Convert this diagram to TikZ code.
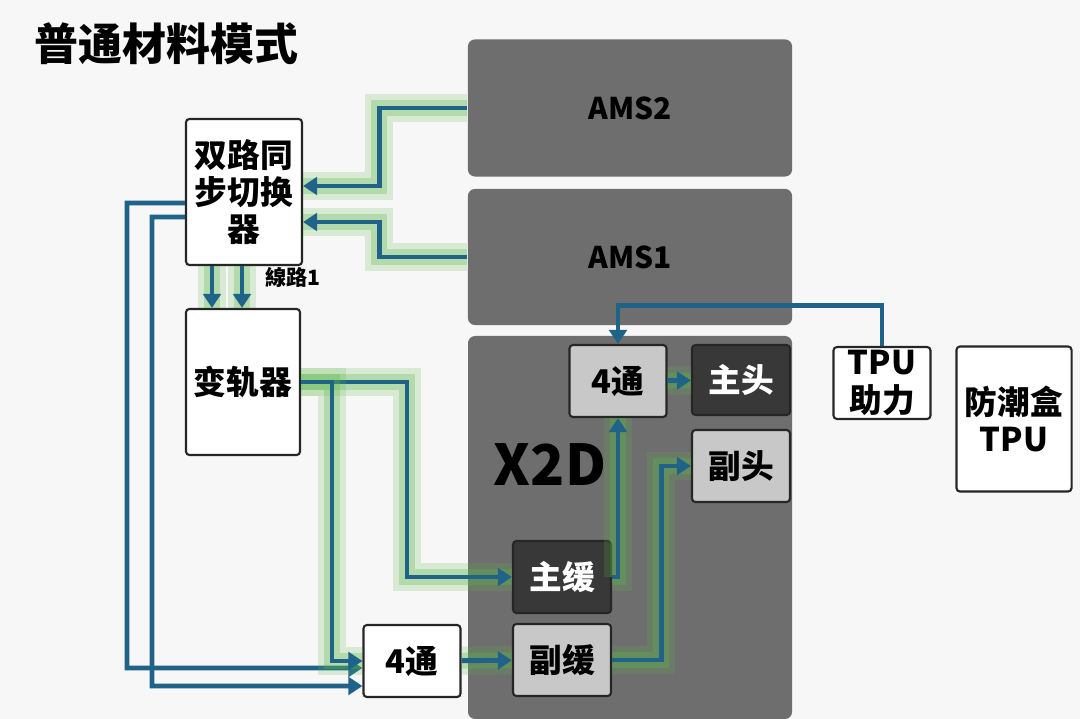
\documentclass[tikz,border=0pt]{standalone}
\usepackage{fontspec}
\setmainfont{Noto Sans CJK SC}
\usetikzlibrary{arrows.meta}
\definecolor{bg}{HTML}{F7F7F7}
\definecolor{panel}{HTML}{6E6E6E}
\definecolor{dark}{HTML}{383838}
\definecolor{light}{HTML}{C8C8C8}
\definecolor{wire}{HTML}{1F6388}
\definecolor{halo}{HTML}{5CB84A}
\tikzset{
  panel/.style={fill=panel,draw=none,rounded corners=2pt,font=\bfseries\fontsize{8.5}{10}\selectfont},
  box/.style={draw=black!85,line width=0.6pt,fill=white,rounded corners=1pt,align=center,
    font=\bfseries\fontsize{9.3}{10.6}\selectfont,inner sep=0pt},
  wire/.style={draw=wire,line width=1.4pt,-{Triangle[length=4pt,width=5pt]}},
  glow/.style={preaction={draw=halo,opacity=0.2,line width=8pt,arrows=-},
               preaction={draw=halo,opacity=0.3,line width=4.5pt,arrows=-}}
}
\begin{document}
\begin{tikzpicture}[x=0.01cm,y=-0.01cm]
  \fill[bg] (0,0) rectangle (1080,719);
  \useasboundingbox (0,0) rectangle (1080,719);
  \node[anchor=west,font=\bfseries\fontsize{12.5}{14}\selectfont] (title) at (22,44) {普通材料模式};
  % panels
  \node[panel,minimum width=3.24cm,minimum height=1.37cm] (ams2) at (630,108) {AMS2};
  \node[panel,minimum width=3.24cm,minimum height=1.36cm] (ams1) at (630,257) {AMS1};
  \fill[panel,rounded corners=2pt] (468,336) rectangle (792,719);
  \node[font=\bfseries\fontsize{16}{18}\selectfont] (x2d) at (550,465) {X2D};
  % boxes
  \node[box,minimum width=1.16cm,minimum height=1.46cm] (sw) at (244,192) {双路同\\步切换\\器};
  \node[box,minimum width=1.14cm,minimum height=1.46cm] (rail) at (243,382) {变轨器};
  \node[font=\bfseries\fontsize{6}{7}\selectfont] (line1) at (293,277) {線路1};
  \node[box,fill=light,minimum width=0.97cm,minimum height=0.72cm] (fourU) at (618,381) {4通};
  \node[box,fill=dark,text=white,minimum width=0.98cm,minimum height=0.70cm] (mhead) at (741,380) {主头};
  \node[box,fill=light,minimum width=0.98cm,minimum height=0.72cm] (shead) at (741,466) {副头};
  \node[box,fill=dark,text=white,minimum width=0.98cm,minimum height=0.72cm] (mbuf) at (562,577) {主缓};
  \node[box,fill=light,minimum width=0.98cm,minimum height=0.72cm] (sbuf) at (562,660) {副缓};
  \node[box,minimum width=0.97cm,minimum height=0.72cm] (four) at (412,661) {4通};
  \node[box,minimum width=0.97cm,minimum height=0.72cm] (tpu) at (882,383) {TPU\\助力};
  \node[box,minimum width=1.15cm,minimum height=1.45cm] (box) at (1014,419) {防潮盒\\TPU};
  % connectors
  \draw[wire,glow] (ams2.west) -- ++(-88,0) |- ([yshift=0.06cm]sw.east);
  \draw[wire,glow] (ams1.west) -- ++(-88,0) |- ([yshift=-0.30cm]sw.east);
  \draw[wire,glow] ([xshift=-0.32cm]sw.south) -- ([xshift=-0.32cm]sw.south |- rail.north);
  \draw[wire,glow] ([xshift=-0.02cm]sw.south) -- ([xshift=-0.02cm]sw.south |- rail.north);
  \draw[wire] ([yshift=-0.11cm]sw.west) -- (127,203) |- ([yshift=-0.07cm]four.west);
  \draw[wire] ([yshift=-0.25cm]sw.west) -- (152,217) |- ([yshift=-0.25cm]four.west);
  \draw[wire,glow] (rail.east) -- (407,382) |- (mbuf.west);
  \draw[wire,glow] (rail.east) -- (332,382) |- (four.west);
  \draw[wire,glow] (four) -- (sbuf);
  \draw[wire,glow] (mbuf.east) -| (fourU.south);
  \draw[wire,glow] (sbuf.east) -- ++(49,0) |- (shead.west);
  \draw[wire,glow] (fourU) -- (mhead);
  \draw[wire] (tpu.north) -- ++(0,-40) -| (fourU.north);
\end{tikzpicture}
\end{document}
